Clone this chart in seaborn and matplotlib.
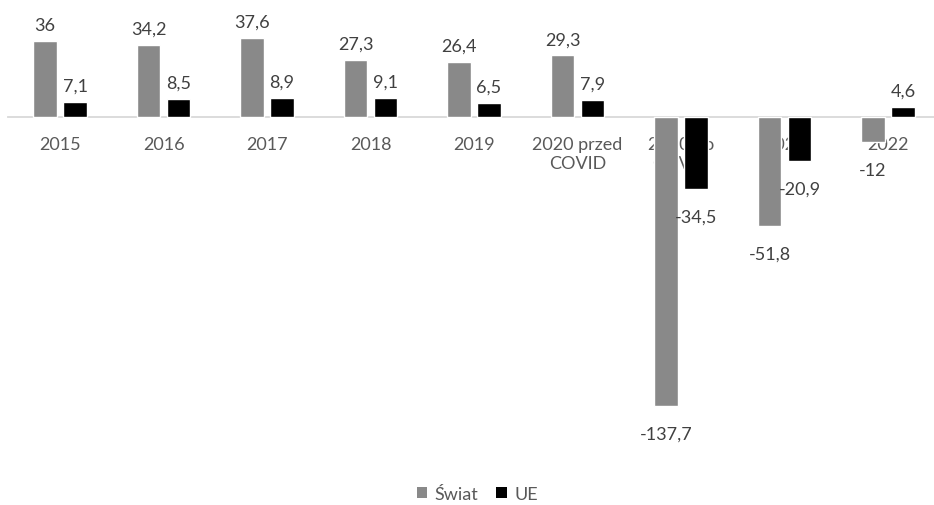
import matplotlib
matplotlib.use("Agg")
import matplotlib.pyplot as plt
import seaborn as sns
import pandas as pd
from matplotlib.patches import Patch

categories = ["2015", "2016", "2017", "2018", "2019", "2020 przed\nCOVID",
              "2020 po\nCOVID", "2021", "2022"]
swiat = [36, 34.2, 37.6, 27.3, 26.4, 29.3, -137.7, -51.8, -12]
ue = [7.1, 8.5, 8.9, 9.1, 6.5, 7.9, -34.5, -20.9, 4.6]
series = ["Świat", "UE"]
colors = ["#898989", "#000000"]

df = pd.DataFrame({
    "kategoria": categories * 2,
    "wartość": swiat + ue,
    "seria": [series[0]] * len(categories) + [series[1]] * len(categories),
})

sns.set_theme(style="white")
plt.rcParams["font.family"] = ["Lato", "DejaVu Sans"]

fig = plt.figure(figsize=(9.34, 5.06), dpi=100)
ax = fig.add_axes([0, 0, 1, 1])

sns.barplot(data=df, x="kategoria", y="wartość", hue="seria",
            palette=colors, width=0.58, gap=0.22, legend=False,
            errorbar=None, ax=ax, zorder=3)

def fmt(v):
    return f"{v:g}".replace(".", ",")

# positive values sit above the bar, negative ones below its end
for cont, vals in zip(ax.containers, [swiat, ue]):
    pos = [fmt(v) if v >= 0 else "" for v in vals]
    neg = [fmt(v) if v < 0 else "" for v in vals]
    ax.bar_label(cont, labels=pos, padding=6, fontsize=13,
                 color="#404040", zorder=4)
    ax.bar_label(cont, labels=neg, padding=14, fontsize=13,
                 color="#404040", zorder=4)

ax.set_xlim(-0.58, 8.444)
ax.set_ylim(-184.8, 56.2)
ax.set_xlabel("")
ax.set_ylabel("")
ax.set_yticks([])

for side in ["top", "right", "left"]:
    ax.spines[side].set_visible(False)
ax.spines["bottom"].set_position(("data", 0))
ax.spines["bottom"].set_color("#d9d9d9")
ax.spines["bottom"].set_linewidth(1.3)
ax.spines["bottom"].set_bounds(-0.5, 8.6)
ax.spines["bottom"].set_zorder(2)

ax.tick_params(axis="x", length=0, pad=14, labelsize=13, labelcolor="#595959")
ax.xaxis.set_zorder(1)
ax.patch.set_visible(False)

handles = [Patch(facecolor=c, edgecolor="none") for c in colors]
fig.legend(handles, series, loc="center", bbox_to_anchor=(0.511, 0.022),
           ncol=2, frameon=False, fontsize=13, labelcolor="#595959",
           handlelength=0.6, handleheight=0.6, handletextpad=0.4,
           columnspacing=1.0)

fig.savefig("out.png", dpi=100)
